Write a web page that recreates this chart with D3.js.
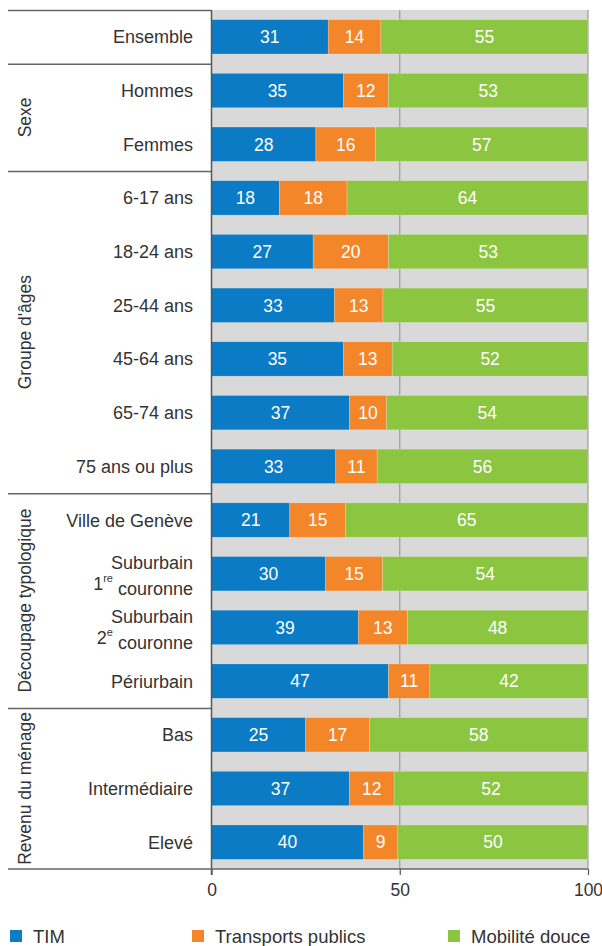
<!DOCTYPE html>
<html><head><meta charset="utf-8">
<script src="https://cdn.jsdelivr.net/npm/d3@7"></script>
<style>body{margin:0;background:#fff;} svg{display:block;font-family:"Liberation Sans",Arial,sans-serif;}</style>
</head><body>
<svg id="c" width="602" height="946"></svg>
<script>
const categories = ["Ensemble","Hommes","Femmes","6-17 ans","18-24 ans","25-44 ans","45-64 ans","65-74 ans","75 ans ou plus","Ville de Genève","Suburbain 1re couronne","Suburbain 2e couronne","Périurbain","Bas","Intermédiaire","Elevé"];
const tim = [31,35,28,18,27,33,35,37,33,21,30,39,47,25,37,40];
const transports = [14,12,16,18,20,13,13,10,11,15,15,13,11,17,12,9];
const douce = [55,53,57,64,53,55,52,54,56,65,54,48,42,58,52,50];
const seriesNames = ["TIM","Transports publics","Mobilité douce"];
const colors = ["#0a7bc4","#f4862a","#8cc540"];
const groups = [
  {name:"", start:0, end:1},
  {name:"Sexe", start:1, end:3},
  {name:"Groupe d'âges", start:3, end:9},
  {name:"Découpage typologique", start:9, end:13},
  {name:"Revenu du ménage", start:13, end:16}
];
const xTicks = [0,50,100];

const svg = d3.select("#c");
const pL = 211.5, pR = 588, pT = 10, pB = 869;
const x = d3.scaleLinear().domain([0,1]).range([pL,pR]);
const y = d3.scaleBand().domain(categories).range([pT,pB]).paddingInner(0.36).paddingOuter(0.18);

const rows = categories.map((c,i)=>({cat:c, TIM:tim[i], "Transports publics":transports[i], "Mobilité douce":douce[i]}));
const stack = d3.stack().keys(seriesNames).offset(d3.stackOffsetExpand)(rows);

// background
svg.append("rect").attr("x",pL).attr("y",pT).attr("width",pR-pL).attr("height",pB-pT).attr("fill","#d9d9d9");
// gridlines
svg.selectAll(".grid").data([0.5,1]).enter().append("line")
  .attr("x1",d=>x(d)).attr("x2",d=>x(d)).attr("y1",pT).attr("y2",pB)
  .attr("stroke","#9a9a9a").attr("stroke-width",1.2);

// bars
const layer = svg.selectAll(".layer").data(stack).enter().append("g").attr("fill",(d,i)=>colors[i]);
layer.selectAll("rect").data(d=>d).enter().append("rect")
  .attr("x",d=>x(d[0])).attr("width",d=>x(d[1])-x(d[0]))
  .attr("y",d=>y(d.data.cat)).attr("height",y.bandwidth())
  .attr("stroke","rgba(255,255,255,0.35)").attr("stroke-width",0.6);
layer.selectAll("text").data((d)=>d.map(v=>({v, key:d.key}))).enter().append("text")
  .attr("x",d=>(x(d.v[0])+x(d.v[1]))/2).attr("y",d=>y(d.v.data.cat)+y.bandwidth()/2)
  .attr("dy","0.36em").attr("text-anchor","middle").attr("fill","#fff").attr("font-size",17.5)
  .text(d=>d.v.data[d.key]);

// category labels
const labG = svg.append("g").attr("fill","#333").attr("font-size",18).attr("text-anchor","end");
categories.forEach(c=>{
  const cy = y(c)+y.bandwidth()/2;
  const m = c.match(/^(Suburbain) (\d)(re|e) (couronne)$/);
  if(m){
    labG.append("text").attr("x",193).attr("y",cy-11).attr("dy","0.36em").text(m[1]);
    const t = labG.append("text").attr("x",193).attr("y",cy+10).attr("dy","0.36em");
    t.append("tspan").text(m[2]);
    t.append("tspan").attr("font-size",11).attr("dy","-0.75em").text(m[3]);
    t.append("tspan").attr("dy","0.75em").text(" "+m[4]);
  } else {
    labG.append("text").attr("x",193).attr("y",cy).attr("dy","0.36em").text(c);
  }
});

// group separators
const step = y.step();
const bound = i => pT + i*step;
const sepYs = [0,1,3,9,13].map(bound);
svg.selectAll(".sep").data(sepYs).enter().append("line")
  .attr("x1",8).attr("x2",pL).attr("y1",d=>d+0.5).attr("y2",d=>d+0.5)
  .attr("stroke","#666").attr("stroke-width",1.5);
// group labels
groups.filter(g=>g.name).forEach(g=>{
  const cy = (bound(g.start)+bound(g.end))/2;
  svg.append("text").attr("transform",`translate(31,${cy}) rotate(-90)`)
    .attr("text-anchor","middle").attr("font-size",17.5).attr("fill","#333").text(g.name);
});

// axes lines
svg.append("line").attr("x1",pL).attr("x2",pL).attr("y1",pT).attr("y2",pB+6).attr("stroke","#555").attr("stroke-width",1.5);
svg.append("line").attr("x1",8).attr("x2",pR).attr("y1",pB).attr("y2",pB).attr("stroke","#666").attr("stroke-width",1.5);
const xs = d3.scaleLinear().domain([0,100]).range([pL,pR]);
const ax = svg.append("g").attr("transform",`translate(0,${pB})`)
  .call(d3.axisBottom(xs).tickValues(xTicks).tickSize(6).tickPadding(9));
ax.select(".domain").remove();
ax.selectAll(".tick line").attr("stroke","#555").attr("stroke-width",1.2);
ax.selectAll(".tick text").attr("font-size",17.5).attr("fill","#333").attr("font-family","Liberation Sans, Arial, sans-serif");

// legend
const legX = [10,192,448];
const leg = svg.selectAll(".leg").data(seriesNames).enter().append("g")
  .attr("transform",(d,i)=>`translate(${legX[i]},930)`);
leg.append("rect").attr("width",12).attr("height",12).attr("fill",(d,i)=>colors[i]);
leg.append("text").attr("x",23).attr("y",13).attr("font-size",18.5).attr("fill","#333").text(d=>d);
</script>
</body></html>
